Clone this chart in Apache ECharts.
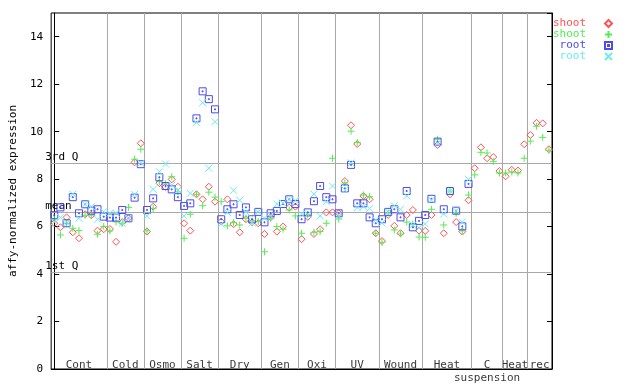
<!DOCTYPE html>
<html>
<head>
<meta charset="utf-8">
<script src="https://cdn.jsdelivr.net/npm/echarts@6/dist/echarts.min.js"></script>
<style>html,body{margin:0;padding:0;background:#fff}#c{width:640px;height:384px}</style>
</head>
<body>
<div id="c"></div>
<script>
// ---- data ----
const groupNames = ['Cont','Cold','Osmo','Salt','Dry','Gen','Oxi','UV','Wound','Heat','C\nsuspension','Heat','rec'];
const groupSizes = [9,6,6,6,7,6,6,7,7,8,5,4,4];
const quartileNames = ['3rd Q','mean','1st Q'];
const quartileValues = [8.67, 6.60, 4.07];
const yTicks = [0,2,4,6,8,10,12,14];

const shootA = [6.14,5.97,6.39,5.76,5.51,6.52,6.48,5.83,5.89,
  5.90,5.36,6.19,6.35,8.71,9.51,
  5.79,6.84,7.83,7.67,7.99,7.68,
  6.14,5.83,7.36,7.15,7.68,7.05,
  6.21,7.15,6.10,5.76,6.31,6.18,6.14,
  5.69,6.39,5.79,6.00,6.80,6.84,
  5.47,6.41,5.69,5.89,6.60,6.60,
  6.56,7.92,10.27,9.48,7.29,7.15,5.72,
  5.39,6.49,6.03,5.72,6.49,6.70,5.83,
  5.82,6.49,9.44,5.72,7.36,6.19,5.79,7.11,
  8.46,9.34,8.88,8.93,8.34,
  8.12,8.39,8.36,9.47,
  9.86,10.37,10.35,9.26];
const shootB = [6.32,5.65,6.14,5.93,5.83,6.48,6.48,5.68,6.01,
  5.82,6.20,6.14,6.81,8.84,9.26,
  5.82,6.77,7.89,7.80,8.10,7.46,
  5.51,6.52,7.36,6.88,7.45,7.24,
  7.05,6.03,6.17,6.07,6.35,6.24,6.21,
  4.94,6.35,6.00,5.89,6.70,6.45,
  5.72,6.49,5.76,5.79,6.14,8.88,
  6.32,7.84,10.02,9.54,7.33,7.26,5.72,
  5.34,6.57,5.86,5.69,6.19,6.11,5.56,
  5.55,6.73,9.68,6.07,7.50,6.56,5.82,7.33,
  8.18,9.13,9.10,8.75,8.26,
  8.26,8.30,8.26,8.88,
  9.60,10.23,9.76,9.22];
const rootA = [6.48,6.81,6.14,7.24,6.56,6.94,6.67,6.73,6.42,
  6.38,6.38,6.70,6.35,7.22,8.63,
  6.70,7.19,8.08,7.71,7.57,7.24,
  6.87,6.98,10.56,11.70,11.37,10.94,
  6.31,6.73,6.94,6.49,6.81,6.31,6.62,
  6.18,6.56,6.66,6.95,7.15,6.95,
  6.31,6.60,7.07,7.71,7.24,7.15,
  6.56,7.61,8.60,6.98,6.98,6.39,6.14,
  6.31,6.62,6.73,6.39,7.50,5.97,6.24,
  6.49,7.17,9.58,6.73,7.50,6.67,6.01,7.80,
  null,null,null,null,null,
  null,null,null,null,
  null,null,null,null];
const rootB = [6.20,6.39,6.15,7.37,6.35,6.94,6.84,6.31,6.63,
  6.56,6.56,6.14,6.36,7.36,8.68,
  6.45,7.57,8.31,8.64,7.75,7.54,
  6.45,7.40,10.38,11.22,8.46,10.42,
  6.11,6.60,7.53,7.11,6.62,6.15,6.62,
  6.36,6.45,6.95,6.99,7.15,7.09,
  6.53,6.51,7.37,6.45,7.05,7.71,
  6.45,7.55,8.68,6.80,6.84,6.77,6.28,
  6.15,6.62,6.88,6.73,7.29,6.07,5.95,
  6.11,7.12,9.52,6.53,7.50,6.67,6.19,7.99,
  null,null,null,null,null,
  null,null,null,null,
  null,null,null,null];

// ---- build ----
const FONT = 'DejaVu Sans Mono';
const nPts = shootA.length;
const toPts = arr => arr.map((v, i) => [i, v]).filter(p => p[1] !== null);

const bounds = [];
const centers = [];
let acc = 0;
groupSizes.forEach((s, gi) => {
  centers.push([acc + s / 2 - 0.5, 0, groupNames[gi]]);
  acc += s;
  if (gi < groupSizes.length - 1) bounds.push(acc - 0.5);
});

const symDiamond = 'path://M3.5,0L7,3.5L3.5,7L0,3.5Z';
const symPlus = 'path://M3.5,0L3.5,7M0,3.5L7,3.5';
const symSquare = 'path://M0,0L7,0L7,7L0,7Z M3,3L4,3L4,4L3,4Z';
const symCross = 'path://M0,0L7,7M7,0L0,7';

const cols = ['#ff5252', '#52ee52', '#4b4bf0', '#6aeeee'];
const seriesDefs = [
  {name: 'shoot', data: shootA, sym: symDiamond, c: cols[0]},
  {name: 'shoot ', data: shootB, sym: symPlus, c: cols[1]},
  {name: 'root', data: rootA, sym: symSquare, c: cols[2]},
  {name: 'root ', data: rootB, sym: symCross, c: cols[3]}
];

const series = seriesDefs.map(d => ({
  type: 'scatter', name: d.name, data: toPts(d.data),
  symbol: d.sym, symbolSize: 7,
  itemStyle: {color: 'rgba(0,0,0,0)', borderColor: d.c, borderWidth: 1, opacity: 1},
  emphasis: {disabled: true}, silent: true, z: 5
}));

series.unshift({
  type: 'scatter', name: 'groups', data: centers, symbol: 'circle', symbolSize: 0,
  silent: true, z: 4,
  label: {show: true, formatter: p => p.data[2], position: [0, -10], align: 'center',
    verticalAlign: 'top', fontFamily: FONT, fontSize: 11, lineHeight: 12.5, color: '#000'},
  markLine: {
    silent: true, symbol: 'none', animation: false,
    lineStyle: {color: '#a8a8a8', width: 1, type: 'solid'},
    label: {show: false},
    data: bounds.map(b => ({xAxis: b}))
      .concat(quartileValues.map((v, i) => ({
        yAxis: v, name: quartileNames[i],
        label: {show: true, formatter: quartileNames[i], position: 'insideStartTop',
          distance: 1, offset: [-7, 0], color: '#000', fontFamily: FONT, fontSize: 11}
      })))
  }
});

const chart = echarts.init(document.getElementById('c'), null, {renderer: 'canvas'});
chart.setOption({
  animation: false,
  backgroundColor: '#fff',
  grid: {left: 44, right: 88, top: 13, bottom: 15, show: true, borderColor: '#000', borderWidth: 1, backgroundColor: 'transparent'},
  legend: {
    orient: 'vertical', right: 27, top: 18, align: 'right', padding: 0,
    itemWidth: 7, itemHeight: 7, itemGap: 0, selectedMode: false,
    formatter: n => n.trim(),
    textStyle: {fontFamily: FONT, fontSize: 11, lineHeight: 11, padding: [0, 14, 0, 0]},
    data: seriesDefs.map(d => ({name: d.name, textStyle: {color: d.c}}))
  },
  xAxis: {type: 'value', min: -0.5, max: nPts - 0.5,
    axisLine: {show: true, lineStyle: {color: '#000'}}, axisTick: {show: false},
    axisLabel: {show: false}, splitLine: {show: false}},
  yAxis: [
    {type: 'value', min: 0, max: 15, interval: 2, position: 'left',
      name: 'affy-normalized expression', nameLocation: 'middle', nameGap: 29,
      nameTextStyle: {fontFamily: FONT, fontSize: 11, color: '#000'},
      axisLine: {show: true, lineStyle: {color: '#000'}},
      axisTick: {show: true, inside: true, length: 5, lineStyle: {color: '#000'}},
      axisLabel: {fontFamily: FONT, fontSize: 11, color: '#000', margin: 8, showMaxLabel: false,
        formatter: v => yTicks.indexOf(v) >= 0 ? String(v) : ''},
      splitLine: {show: false}},
    {type: 'value', min: 0, max: 15, interval: 2, position: 'right',
      axisLine: {show: true, lineStyle: {color: '#000'}},
      axisTick: {show: true, inside: true, length: 5, lineStyle: {color: '#000'}},
      axisLabel: {show: false}, splitLine: {show: false}}
  ],
  series: series
});
</script>
</body>
</html>
